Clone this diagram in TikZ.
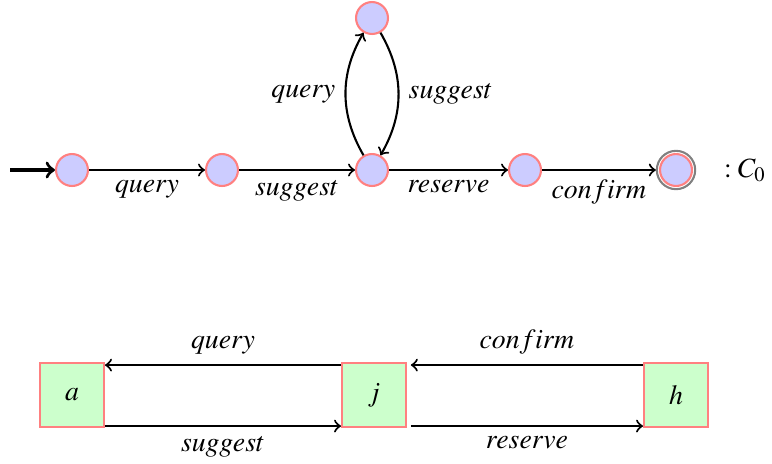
\documentclass[tikz,border=0pt]{standalone}
\usepackage{mathptmx}
\usetikzlibrary{calc}

\tikzset{
  state/.style={circle,draw=red!50,fill=blue!20,line width=0.75pt,minimum size=11.5pt,inner sep=0pt},
  ring/.style={circle,draw=gray,line width=0.75pt,minimum size=13.8pt,inner sep=0pt},
  box/.style={draw=red!50,fill=green!20,line width=0.75pt,minimum size=23pt,inner sep=0pt},
  edge/.style={->,line width=0.75pt}
}

\begin{document}
\begin{tikzpicture}[x=0.36pt,y=-0.36pt]
\useasboundingbox (0,0) rectangle (772,463);
% automaton C_0
\node[state] (q0) at (72,170) {};
\node[state] (q1) at (222,170) {};
\node[state] (q2) at (372,170) {};
\node[state] (q3) at (525,170) {};
\node[state] (q4) at (676,170) {};
\node[ring] (q4r) at (q4) {};
\node[state] (q5) at (372,18) {};
\node (c0) at (745,170) {$:C_0$};
\coordinate (start) at (10,170);
\draw[->,line width=1.2pt] (start) -- (q0);
\draw[edge] (q0) -- node[below] {$query$} (q1);
\draw[edge] (q1) -- node[below] {$suggest$} (q2);
\draw[edge] (q2) -- node[below] {$reserve$} (q3);
\draw[edge] (q3) -- node[below] {$confirm$} (q4r);
\draw[edge] (q2) to[bend left=30] node[left] {$query$} (q5);
\draw[edge] (q5) to[bend left=30] node[right] {$suggest$} (q2);

% components
\node[box] (a) at (72,395) {$a$};
\node[box] (j) at (374,395) {$j$};
\node[box] (h) at (676,395) {$h$};
\draw[edge] ([yshift=-1.1pt]j.north west) -- node[above] {$query$} ([yshift=-1.1pt]a.north east);
\draw[edge] ([yshift=0.7pt]a.south east) -- node[below] {$suggest$} ([yshift=0.7pt]j.south west);
\draw[edge] ([yshift=-1.1pt]h.north west) -- node[above] {$confirm$} ([xshift=1.4pt,yshift=-1.1pt]j.north east);
\draw[edge] ([xshift=1.4pt,yshift=0.7pt]j.south east) -- node[below] {$reserve$} ([yshift=0.7pt]h.south west);
\end{tikzpicture}
\end{document}
